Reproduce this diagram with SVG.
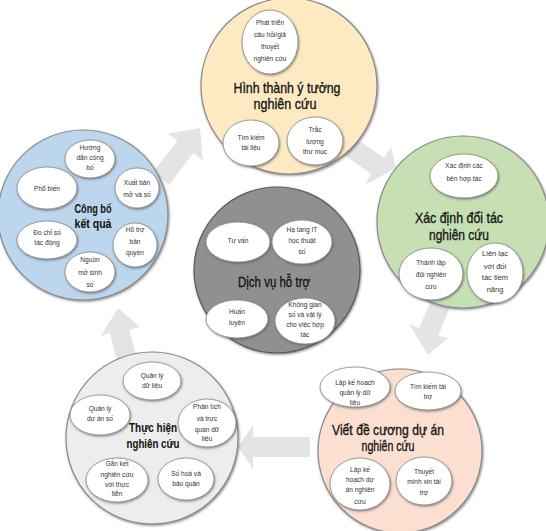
<svg xmlns="http://www.w3.org/2000/svg" width="546" height="531" viewBox="0 0 546 531">
<defs>
<filter id="sh" x="-20%" y="-20%" width="140%" height="140%">
<feDropShadow dx="0.8" dy="1.2" stdDeviation="0.8" flood-color="#555" flood-opacity="0.7"/>
</filter>
</defs>
<style>
.ring{stroke:#8a8a8a;stroke-width:1.2;filter:url(#sh)}
.e{fill:#fff;stroke:#8a8a8a;stroke-width:0.8;filter:url(#sh)}
.t{font-family:"Liberation Sans Narrow","Liberation Sans",Arial,sans-serif;font-size:6.6px;fill:#333;text-anchor:middle}
.h{font-family:"Liberation Sans Narrow","Liberation Sans",Arial,sans-serif;font-size:15px;fill:#161616;stroke:#161616;stroke-width:0.35;text-anchor:middle}
.hb{font-weight:bold;font-size:13.5px;stroke-width:0.1}
.arr{fill:#e4e4e4}
</style>
<rect width="546" height="531" fill="#fff"/>
<g id="connectors">
<polygon class="arr" points="200,128 202.8,160.4 193.3,153.1 169,185 153,172 177.5,140.9 168,133.6"/>
<polygon class="arr" points="396,168 365,185 371,174 338,150 350,134 384,158 391,147"/>
<polygon class="arr" points="428,355 409,324 419,328 436,290 454,297 438,336 448,338"/>
<polygon class="arr" points="238,447 253,425 253,437 310,437 310,457 253,457 253,469"/>
<polygon class="arr" points="118,308 140,327 129,330 138,362 118,366 110,333 101,336"/>
</g>
<g id="n-top">
<circle class="ring" cx="289" cy="86" r="88" fill="#fdeac2"/>
<ellipse class="e" cx="270" cy="42" rx="28" ry="32"/>
<text class="t" x="270" y="25">Phát triển</text>
<text class="t" x="270" y="37">câu hỏi/giả</text>
<text class="t" x="270" y="49">thuyết</text>
<text class="t" x="270" y="61">nghiên cứu</text>
<text class="h" x="287" y="93" textLength="107" lengthAdjust="spacingAndGlyphs">Hình thành ý tưởng</text>
<text class="h" x="285" y="109" textLength="63" lengthAdjust="spacingAndGlyphs">nghiên cứu</text>
<ellipse class="e" cx="251" cy="143" rx="28" ry="23"/>
<text class="t" x="251" y="140">Tìm kiếm</text>
<text class="t" x="251" y="150">tài liệu</text>
<ellipse class="e" cx="315" cy="141" rx="28" ry="24"/>
<text class="t" x="315" y="132">Trắc</text>
<text class="t" x="315" y="144">lượng</text>
<text class="t" x="315" y="154">thư mục</text>
</g>
<g id="n-right">
<circle class="ring" cx="463" cy="222" r="86" fill="#c6e0b4"/>
<ellipse class="e" cx="464" cy="176" rx="34" ry="22"/>
<text class="t" x="464" y="168">Xác định các</text>
<text class="t" x="464" y="181">bên hợp tác</text>
<text class="h" x="459" y="223" textLength="88" lengthAdjust="spacingAndGlyphs">Xác định đối tác</text>
<text class="h" x="459" y="240" textLength="60" lengthAdjust="spacingAndGlyphs">nghiên cứu</text>
<ellipse class="e" cx="431" cy="274" rx="32" ry="26"/>
<text class="t" x="431" y="265">Thành lập</text>
<text class="t" x="431" y="277">đội nghiên</text>
<text class="t" x="431" y="289">cứu</text>
<ellipse class="e" cx="495" cy="273" rx="28" ry="30"/>
<text class="t" x="495" y="256" style="font-size:7.5px">Liên lạc</text>
<text class="t" x="495" y="269" style="font-size:7.5px">với đối</text>
<text class="t" x="495" y="280" style="font-size:7.5px">tác tiềm</text>
<text class="t" x="495" y="292" style="font-size:7.5px">năng</text>
</g>
<g id="n-bottom-right">
<circle class="ring" cx="400" cy="451" r="82" fill="#fbdfd0"/>
<ellipse class="e" cx="355" cy="387" rx="35" ry="20"/>
<text class="t" x="355" y="385">Lập kế hoạch</text>
<text class="t" x="355" y="395">quản lý dữ</text>
<text class="t" x="355" y="405">liệu</text>
<ellipse class="e" cx="428" cy="391" rx="33" ry="19"/>
<text class="t" x="428" y="389">Tìm kiếm tài</text>
<text class="t" x="428" y="399">trợ</text>
<text class="h" x="388" y="435" textLength="112" lengthAdjust="spacingAndGlyphs">Viết đề cương dự án</text>
<text class="h" x="388" y="451" textLength="53" lengthAdjust="spacingAndGlyphs">nghiên cứu</text>
<ellipse class="e" cx="360" cy="484" rx="30" ry="26"/>
<text class="t" x="360" y="472">Lập kế</text>
<text class="t" x="360" y="482">hoạch dự</text>
<text class="t" x="360" y="492">án nghiên</text>
<text class="t" x="360" y="504">cứu</text>
<ellipse class="e" cx="424" cy="481" rx="28" ry="24"/>
<text class="t" x="424" y="474">Thuyết</text>
<text class="t" x="424" y="484">minh xin tài</text>
<text class="t" x="424" y="495">trợ</text>
</g>
<g id="n-bottom-left">
<circle class="ring" cx="152" cy="438" r="86" fill="#ededed"/>
<ellipse class="e" cx="152" cy="381" rx="29" ry="19"/>
<text class="t" x="152" y="378">Quản lý</text>
<text class="t" x="152" y="388">dữ liệu</text>
<ellipse class="e" cx="100" cy="415" rx="30" ry="20"/>
<text class="t" x="100" y="411">Quản lý</text>
<text class="t" x="100" y="421">dự án số</text>
<text class="h hb" x="153" y="432" textLength="48" lengthAdjust="spacingAndGlyphs">Thực hiện</text>
<text class="h hb" x="153" y="448" textLength="53" lengthAdjust="spacingAndGlyphs">nghiên cứu</text>
<ellipse class="e" cx="207" cy="423" rx="29" ry="24"/>
<text class="t" x="207" y="409">Phân tích</text>
<text class="t" x="207" y="421">và trực</text>
<text class="t" x="207" y="432">quan dữ</text>
<text class="t" x="207" y="441">liệu</text>
<ellipse class="e" cx="117" cy="480" rx="31" ry="22"/>
<text class="t" x="117" y="466">Gắn kết</text>
<text class="t" x="117" y="477">nghiên cứu</text>
<text class="t" x="117" y="487">với thực</text>
<text class="t" x="117" y="496">tiễn</text>
<ellipse class="e" cx="186" cy="479" rx="28" ry="21"/>
<text class="t" x="186" y="476">Số hoá và</text>
<text class="t" x="186" y="486">bảo quản</text>
</g>
<g id="n-left">
<circle class="ring" cx="83" cy="215" r="85" fill="#bcd6ee"/>
<ellipse class="e" cx="90" cy="159" rx="25" ry="19"/>
<text class="t" x="90" y="150">Hướng</text>
<text class="t" x="90" y="160">dẫn công</text>
<text class="t" x="90" y="170">bố</text>
<ellipse class="e" cx="47" cy="188" rx="30" ry="21"/>
<text class="t" x="47" y="191">Phổ biến</text>
<ellipse class="e" cx="137" cy="188" rx="22" ry="20"/>
<text class="t" x="137" y="185">Xuất bản</text>
<text class="t" x="137" y="197">mở và số</text>
<text class="h hb" x="93" y="213" textLength="37" lengthAdjust="spacingAndGlyphs">Công bố</text>
<text class="h hb" x="93" y="228" textLength="37" lengthAdjust="spacingAndGlyphs">kết quả</text>
<ellipse class="e" cx="47" cy="240" rx="30" ry="19"/>
<text class="t" x="47" y="235">Đo chỉ số</text>
<text class="t" x="47" y="245">tác động</text>
<ellipse class="e" cx="135" cy="245" rx="22" ry="22"/>
<text class="t" x="135" y="232">Hỗ trợ</text>
<text class="t" x="135" y="244">bản</text>
<text class="t" x="135" y="255">quyền</text>
<ellipse class="e" cx="90" cy="272" rx="25" ry="20"/>
<text class="t" x="90" y="262">Nguồn</text>
<text class="t" x="90" y="275">mở sinh</text>
<text class="t" x="90" y="287">số</text>
</g>
<g id="n-center">
<circle class="ring" cx="277" cy="270" r="83" fill="#909090" style="stroke:#5a5a5a"/>
<ellipse class="e" cx="238" cy="242" rx="32" ry="20"/>
<text class="t" x="238" y="243">Tư vấn</text>
<ellipse class="e" cx="302" cy="242" rx="30" ry="22"/>
<text class="t" x="302" y="232">Hạ tầng IT</text>
<text class="t" x="302" y="243">học thuật</text>
<text class="t" x="302" y="254">số</text>
<text class="h" x="274" y="287" textLength="72" lengthAdjust="spacingAndGlyphs" style="font-size:14px">Dịch vụ hỗ trợ</text>
<ellipse class="e" cx="237" cy="319" rx="31" ry="19"/>
<text class="t" x="237" y="314">Huấn</text>
<text class="t" x="237" y="325">luyện</text>
<ellipse class="e" cx="305" cy="321" rx="30" ry="23"/>
<text class="t" x="305" y="307">Không gian</text>
<text class="t" x="305" y="317">số và vật lý</text>
<text class="t" x="305" y="327">cho việc hợp</text>
<text class="t" x="305" y="337">tác</text>
</g>
</svg>
